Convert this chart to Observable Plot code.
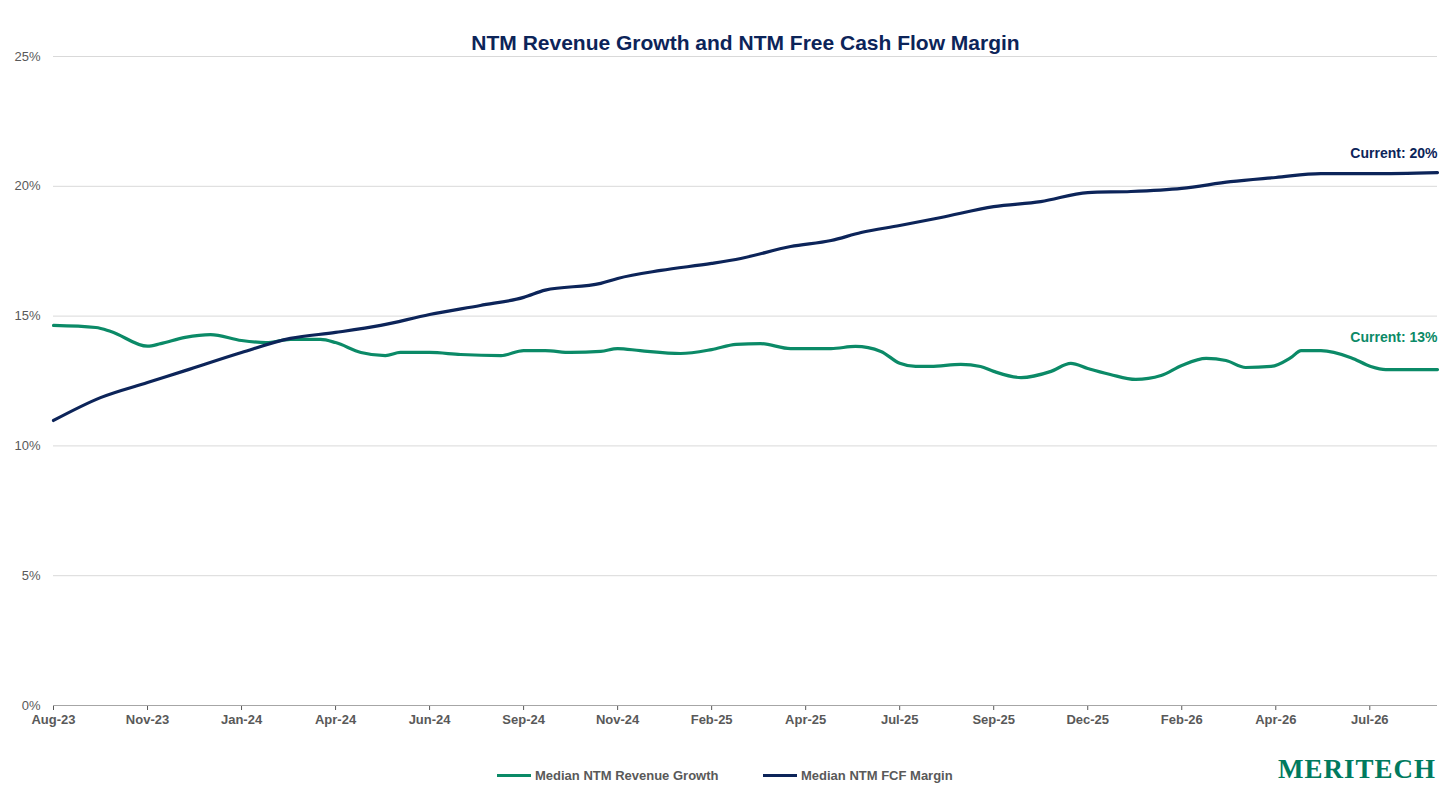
<!DOCTYPE html>
<html><head><meta charset="utf-8">
<script src="https://cdn.jsdelivr.net/npm/d3@7"></script>
<script src="https://cdn.jsdelivr.net/npm/@observablehq/plot@0.6"></script>
<style>
body{margin:0;background:#fff;font-family:"Liberation Sans",Arial,sans-serif;}
#legend{position:relative;height:50px;font-size:13px;font-weight:bold;color:#595959;}
.li{position:absolute;top:28px;display:flex;align-items:center;}
.sw{width:34px;height:3px;margin-right:4px;}
#logo{position:absolute;right:20px;top:14px;font-family:"Liberation Serif",serif;font-size:27px;color:#007a5e;letter-spacing:1px;}
</style></head><body>
<div id="chart"></div>
<div id="legend">
<div class="li" style="left:497px"><div class="sw" style="background:#0b8a67"></div>Median NTM Revenue Growth</div>
<div class="li" style="left:763px"><div class="sw" style="background:#0c2459"></div>Median NTM FCF Margin</div>
<div id="logo">MERITECH</div>
</div>
<script>
const tickLabels=["Aug-23","Nov-23","Jan-24","Apr-24","Jun-24","Sep-24","Nov-24","Feb-25","Apr-25","Jul-25","Sep-25","Dec-25","Feb-26","Apr-26","Jul-26"];
const revX=[0,0.45,0.61,1,1.14,1.40,1.67,2,2.26,2.52,2.84,3,3.27,3.53,3.69,4,4.33,4.76,5,5.23,5.5,5.82,6,6.24,6.67,7,7.26,7.52,7.84,8,8.27,8.53,8.80,9,9.17,9.33,9.65,9.86,10,10.29,10.61,10.82,11,11.24,11.51,11.78,12,12.26,12.47,12.68,12.95,13.16,13.27,13.48,13.80,14.01,14.17,14.72];
const revY=[14.64,14.56,14.41,13.84,13.94,14.18,14.29,14.06,13.98,14.10,14.10,13.98,13.60,13.48,13.60,13.60,13.52,13.48,13.67,13.67,13.60,13.64,13.75,13.67,13.56,13.71,13.91,13.94,13.75,13.75,13.75,13.83,13.64,13.18,13.06,13.06,13.14,13.06,12.87,12.63,12.87,13.18,12.98,12.75,12.56,12.71,13.10,13.37,13.29,13.02,13.06,13.40,13.67,13.67,13.40,13.06,12.94,12.94];
const fcfX=[0,0.50,1,1.40,2,2.52,3,3.48,4,4.54,5,5.23,5.82,6,6.46,7,7.31,7.84,8.27,8.59,9,9.44,10,10.5,11,11.46,12,12.52,13,13.48,14.01,14.72];
const fcfY=[10.98,11.86,12.44,12.90,13.60,14.14,14.37,14.64,15.06,15.41,15.72,16.00,16.26,16.45,16.76,17.03,17.22,17.68,17.91,18.22,18.49,18.80,19.22,19.41,19.76,19.80,19.92,20.18,20.34,20.49,20.49,20.53];
const rev=revX.map((x,i)=>({x,y:revY[i]}));
const fcf=fcfX.map((x,i)=>({x,y:fcfY[i]}));
const G="#0b8a67",B="#0c2459";
const chart=Plot.plot({
 width:1456,height:740,marginTop:56,marginBottom:35,marginLeft:53,marginRight:19,
 style:{fontFamily:"Liberation Sans, Arial, sans-serif",fontSize:"13px",color:"#595959"},
 x:{domain:[0,14.72],ticks:d3.range(15),tickFormat:i=>tickLabels[i],tickSize:5,tickPadding:4,label:null},
 y:{domain:[0,25],ticks:[0,5,10,15,20,25],tickFormat:d=>d+"%",tickSize:0,tickPadding:13,label:null},
 marks:[
  Plot.gridY([5,10,15,20,25],{stroke:"#d9d9d9",strokeOpacity:1}),
  Plot.ruleY([0],{stroke:"#a6a6a6"}),
  Plot.line(rev,{x:"x",y:"y",stroke:G,strokeWidth:3.2,curve:"monotone-x"}),
  Plot.line(fcf,{x:"x",y:"y",stroke:B,strokeWidth:3.2,curve:"monotone-x"}),
  Plot.text(["Current: 20%"],{x:14.72,y:21.26,text:d=>d,textAnchor:"end",fill:B,fontWeight:"bold",fontSize:14}),
  Plot.text(["Current: 13%"],{x:14.72,y:14.18,text:d=>d,textAnchor:"end",fill:G,fontWeight:"bold",fontSize:14}),
  Plot.text(["NTM Revenue Growth and NTM Free Cash Flow Margin"],{frameAnchor:"top",dy:-21,text:d=>d,fill:B,fontWeight:"bold",fontSize:21})
 ]
});
chart.querySelectorAll('[aria-label="x-axis tick label"] text, [aria-label="x-axis tick label"]').forEach(e=>e.style.fontWeight="bold");
document.getElementById("chart").appendChild(chart);
</script></body></html>
